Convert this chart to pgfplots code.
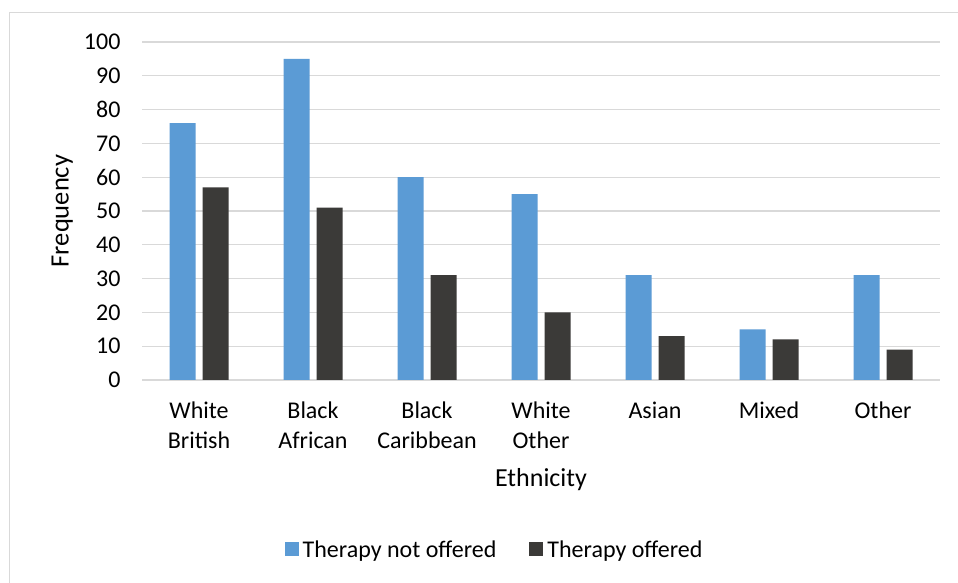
\documentclass[border=0pt]{standalone}
\usepackage{pgfplots}
\pgfplotsset{compat=1.18}
\usepackage{fontspec}
\setmainfont{Carlito}
\definecolor{barblue}{HTML}{5B9BD5}
\definecolor{bardark}{HTML}{3B3A38}
\definecolor{gridgray}{HTML}{D9D9D9}
\definecolor{framegray}{HTML}{D9D9D9}
\pgfplotstableread{
x notoffered offered
0 76 57
1 95 51
2 60 31
3 55 20
4 31 13
5 15 12
6 31 9
}\datatable
\begin{document}
\begin{tikzpicture}[x=1pt,y=1pt]
\path[use as bounding box] (0,0) rectangle (958,583);
\fill[white] (0,0) rectangle (958,583);
\draw[framegray, line width=1.5pt] (9.5,0) -- (9.5,570.5) -- (958,570.5);
\begin{axis}[
  at={(142pt,203pt)}, anchor=south west,
  scale only axis, width=798pt, height=338pt,
  font=\fontsize{24}{30}\selectfont,
  /pgf/number format/assume math mode=true,
  xmin=-0.5, xmax=6.5, ymin=0, ymax=100,
  ytick={0,10,...,100},
  xtick={0,...,6},
  xticklabels={{White\\British},{Black\\African},{Black\\Caribbean},{White\\Other},Asian,Mixed,Other},
  xticklabel style={align=center, yshift=-14pt},
  yticklabel style={xshift=-18pt},
  axis line style={draw=none},
  tick style={draw=none},
  ymajorgrids, grid style={gridgray, line width=1.3pt},
  ybar=7pt, bar width=26pt,
  xlabel={Ethnicity}, ylabel={Frequency},
  every axis x label/.style={at={(rel axis cs:0.5,0)}, anchor=center, yshift=-100pt, font=\fontsize{26}{32}\selectfont},
  every axis y label/.style={at={(rel axis cs:-0.1,0.5)}, anchor=center, rotate=90, font=\fontsize{26.5}{32}\selectfont},
  legend columns=2,
  legend style={at={(rel axis cs:0.4405,0)}, anchor=center, yshift=-169pt, draw=none, fill=none,
    font=\fontsize{24}{30}\selectfont,
    /tikz/every even column/.append style={column sep=33pt}, inner sep=0pt,
    nodes={inner sep=0pt, text depth=0pt}},
  legend image code/.code={\fill[#1] (0pt,-7pt) rectangle (14pt,7pt);},
]
\draw[gridgray, line width=1.5pt] (axis cs:-0.5,0) -- (axis cs:6.5,0);
\addplot[fill=barblue, draw=none] table[x=x, y=notoffered] {\datatable};
\addplot[fill=bardark, draw=none] table[x=x, y=offered] {\datatable};
\legend{\hspace{4pt}Therapy not offered, \hspace{4pt}Therapy offered}
\end{axis}
\end{tikzpicture}
\end{document}
